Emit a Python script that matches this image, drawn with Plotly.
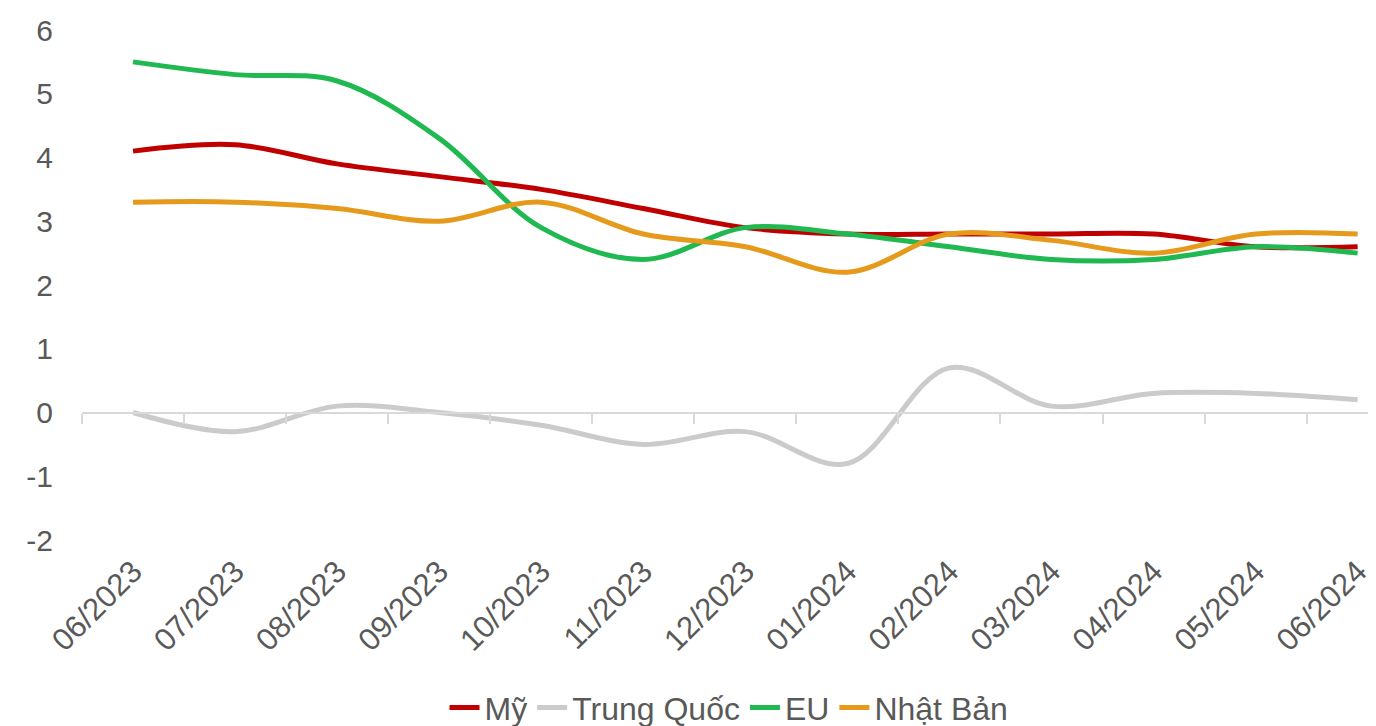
import plotly.graph_objects as go

months = ["06/2023", "07/2023", "08/2023", "09/2023", "10/2023", "11/2023", "12/2023",
          "01/2024", "02/2024", "03/2024", "04/2024", "05/2024", "06/2024"]
my = [4.1, 4.2, 3.9, 3.7, 3.5, 3.2, 2.9, 2.8, 2.8, 2.8, 2.8, 2.6, 2.6]
trung_quoc = [0.0, -0.3, 0.1, 0.0, -0.2, -0.5, -0.3, -0.8, 0.7, 0.1, 0.3, 0.3, 0.2]
eu = [5.5, 5.3, 5.2, 4.3, 2.9, 2.4, 2.9, 2.8, 2.6, 2.4, 2.4, 2.6, 2.5]
nhat_ban = [3.3, 3.3, 3.2, 3.0, 3.3, 2.8, 2.6, 2.2, 2.8, 2.7, 2.5, 2.8, 2.8]
y_ticks = [-2, -1, 0, 1, 2, 3, 4, 5, 6]
y_tick_text = ["-2", "-1", "0", "1", "2", "3", "4", "5", "6"]

series = [
    ("Mỹ", my, "#C00000"),
    ("Trung Quốc", trung_quoc, "#CBCBCB"),
    ("EU", eu, "#1FB851"),
    ("Nhật Bản", nhat_ban, "#E69A1C"),
]

FONT = "Liberation Sans, Arial, sans-serif"
TXT = "#595959"

fig = go.Figure()
for name, vals, col in series:
    fig.add_trace(go.Scatter(
        x=months, y=vals, name=name, mode="lines",
        line=dict(color=col, width=5, shape="spline", smoothing=1),
        hoverinfo="x+y+name",
    ))

# invisible helper trace so the zero-level axis knows the categories
fig.add_trace(go.Scatter(x=months, y=[None] * len(months), xaxis="x2",
                         mode="lines", showlegend=False, hoverinfo="skip"))

xr = [-0.5, 12.18]
fig.update_layout(
    width=1368, height=718,
    margin=dict(l=74, r=0, t=22, b=186, autoexpand=False),
    paper_bgcolor="white", plot_bgcolor="white",
    font=dict(family=FONT, color=TXT, size=30),
    showlegend=True,
    legend=dict(orientation="h", x=0.5, xanchor="center", y=-0.275, yanchor="top",
                font=dict(size=32, color=TXT), itemwidth=30, traceorder="normal"),
    xaxis=dict(type="category", categoryorder="array", categoryarray=months,
               range=xr, showline=False, showgrid=False, zeroline=False,
               ticks="", tickangle=-45, tickfont=dict(size=31, color=TXT),
               ticklabelstandoff=6, automargin=False),
    xaxis2=dict(type="category", categoryorder="array", categoryarray=months,
                range=xr, overlaying="x", anchor="free", position=0.25, side="bottom",
                showline=True, linecolor="#D9D9D9", linewidth=2,
                ticks="outside", tickson="boundaries", ticklen=10, tickwidth=2,
                tickcolor="#D9D9D9", showticklabels=False, showgrid=False, zeroline=False,
                automargin=False),
    yaxis=dict(range=[-2, 6], tickvals=y_ticks, ticktext=y_tick_text, showgrid=False,
               zeroline=False, showline=False, ticks="", tickfont=dict(size=30, color=TXT),
               ticklabelstandoff=28, automargin=False),
)

fig.write_html("out.html")
